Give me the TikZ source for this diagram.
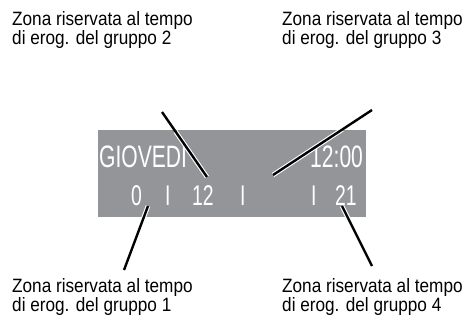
\documentclass[tikz,border=0pt]{standalone}
\usepackage{fontspec}
\setmainfont{Liberation Sans}[FakeStretch=0.89]
\newfontfamily\lcdfont{Liberation Sans}[FakeStretch=0.68]
\usepackage{tikz}
\usetikzlibrary{positioning, calc}

\definecolor{lcdgray}{RGB}{148,149,153}

\tikzset{
  caption/.style={align=left, anchor=north west, inner sep=0pt,
    font=\fontsize{19.3}{19.5}\selectfont},
  lcdtext/.style={anchor=base west, inner sep=0pt, text=white,
    font=\lcdfont\fontsize{31}{31}\selectfont},
  lcdsmall/.style={lcdtext, font=\lcdfont\fontsize{28.5}{28.5}\selectfont},
  halo/.style={white, line width=4.6pt, line cap=square},
  leader/.style={black, line width=2.4pt}
}

\begin{document}
\begin{tikzpicture}[x=1pt, y=-1pt]
  \useasboundingbox (0,0) rectangle (468,321);

  % Display
  \fill[lcdgray] (98,130) rectangle (366,217);
  \node[lcdtext] (day) at (99,167) {GIOVEDI};
  \node[lcdtext] (clock) at (310,167) {12:00};
  \node[lcdsmall] (tone) at (131,205) {0};
  \node[lcdsmall] (sepa) at (165,205) {I};
  \node[lcdsmall] (ttwo) at (192,205) {12};
  \node[lcdsmall] (sepb) at (240,205) {I};
  \node[lcdsmall] (sepc) at (311,205) {I};
  \node[lcdsmall] (tfour) at (335,205) {21};

  % Labels
  \node[caption] (lbltwo) at (12,11) {Zona riservata al tempo\\di erog. del gruppo 2};
  \node[caption] (lblthree) at (282,11) {Zona riservata al tempo\\di erog. del gruppo 3};
  \node[caption] (lblone) at (12,278) {Zona riservata al tempo\\di erog. del gruppo 1};
  \node[caption] (lblfour) at (282,278) {Zona riservata al tempo\\di erog. del gruppo 4};

  % Leader ends
  \coordinate (stwo) at (162,112);
  \coordinate (ptwo) at (207,177);
  \coordinate (sthree) at (372,110);
  \coordinate (pthree) at (273,175);
  \coordinate (sone) at (124,270);
  \coordinate (pone) at (148,206);
  \coordinate (sfour) at (372,266);
  \coordinate (pfour) at (342,206);

  % Leaders
  \foreach \s/\p in {stwo/ptwo, sthree/pthree, sone/pone, sfour/pfour} {
    \draw[halo] ($(\s)!0.3!(\p)$) -- (\p);
    \draw[leader] (\s) -- (\p);
  }
\end{tikzpicture}
\end{document}
